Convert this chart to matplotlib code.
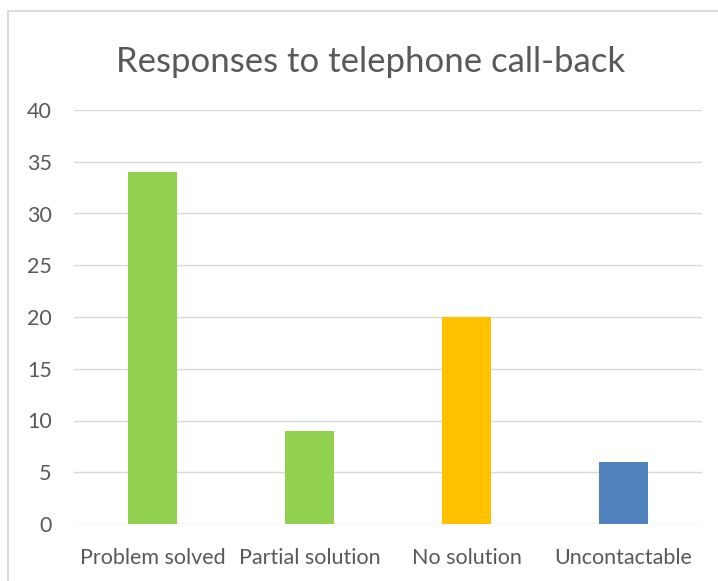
import matplotlib.pyplot as plt
from matplotlib.patches import Rectangle

# Data
categories = ["Problem solved", "Partial solution", "No solution", "Uncontactable"]
values = [34, 9, 20, 6]
colors = ["#92D050", "#92D050", "#FFC000", "#4F81BD"]
yticks = [0, 5, 10, 15, 20, 25, 30, 35, 40]

plt.rcParams['font.family'] = ['Lato', 'DejaVu Sans']

W, H = 718, 581
fig = plt.figure(figsize=(W / 100, H / 100), dpi=100)

# chart frame (cropped on right / bottom)
fig.patches.append(Rectangle((8 / W, -0.1), 1.2, 1 - 11 / H + 0.1,
                             transform=fig.transFigure, fill=False,
                             edgecolor="#D9D9D9", linewidth=1.3))

ax = fig.add_axes([74 / W, 1 - 524 / H, (702 - 74) / W, (524 - 110) / H])
x = range(len(categories))
ax.bar(x, values, width=0.31, color=colors, zorder=3)

ax.set_xlim(-0.5, len(categories) - 0.5)
ax.set_ylim(0, 40)
ax.set_yticks(yticks)
ax.set_xticks(list(x))
ax.set_xticklabels(categories)
ax.grid(axis="y", color="#D9D9D9", linewidth=1.0, zorder=0)
for s in ax.spines.values():
    s.set_visible(False)
ax.tick_params(length=0, labelsize=15.5, labelcolor="#595959")
ax.tick_params(axis="x", pad=17)
ax.tick_params(axis="y", pad=16)

fig.text(371 / W, 1 - 72 / H, "Responses to telephone call-back",
         ha="center", va="baseline", fontsize=25, color="#595959")

fig.savefig("out.png", dpi=100)
